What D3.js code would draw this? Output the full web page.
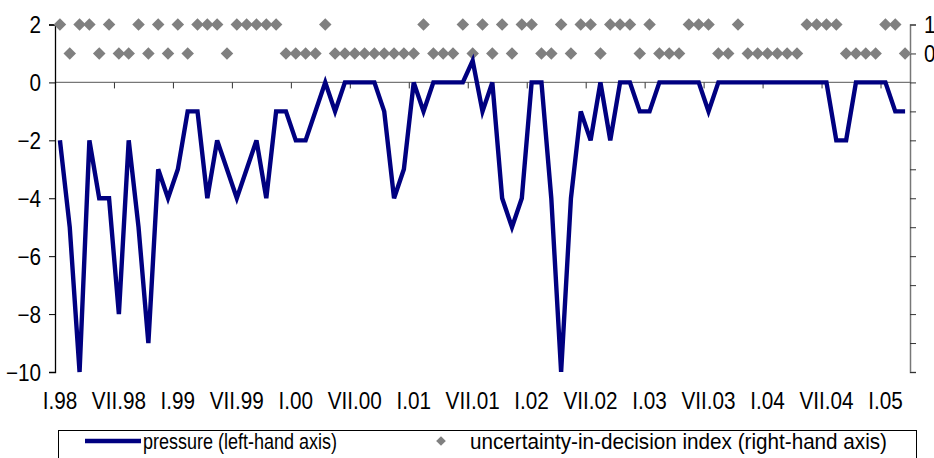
<!DOCTYPE html>
<html>
<head>
<meta charset="utf-8">
<script src="https://cdn.jsdelivr.net/npm/d3@7"></script>
<style>
html,body{margin:0;padding:0;background:#fff;overflow:hidden;}
svg{display:block;font-family:"Liberation Sans",Arial,sans-serif;}
</style>
</head>
<body>
<svg id="chart" width="934" height="458"></svg>
<script>
const months = [
"I.98","II.98","III.98","IV.98","V.98","VI.98","VII.98","VIII.98","IX.98","X.98","XI.98","XII.98",
"I.99","II.99","III.99","IV.99","V.99","VI.99","VII.99","VIII.99","IX.99","X.99","XI.99","XII.99",
"I.00","II.00","III.00","IV.00","V.00","VI.00","VII.00","VIII.00","IX.00","X.00","XI.00","XII.00",
"I.01","II.01","III.01","IV.01","V.01","VI.01","VII.01","VIII.01","IX.01","X.01","XI.01","XII.01",
"I.02","II.02","III.02","IV.02","V.02","VI.02","VII.02","VIII.02","IX.02","X.02","XI.02","XII.02",
"I.03","II.03","III.03","IV.03","V.03","VI.03","VII.03","VIII.03","IX.03","X.03","XI.03","XII.03",
"I.04","II.04","III.04","IV.04","V.04","VI.04","VII.04","VIII.04","IX.04","X.04","XI.04","XII.04",
"I.05","II.05","III.05"];

const pressure = [
-2,-5,-10,-2,-4,-4,-8,-2,-5,-9,-3,-4,
-3,-1,-1,-4,-2,-3,-4,-3,-2,-4,-1,-1,
-2,-2,-1,0,-1,0,0,0,0,-1,-4,-3,
0,-1,0,0,0,0,0.75,-1,0,-4,-5,-4,
0,0,-4,-10,-4,-1,-2,0,-2,0,0,-1,
-1,0,0,0,0,0,-1,0,0,0,0,0,
0,0,0,0,0,0,0,-2,-2,0,0,0,
0,-1,-1];

const uncertainty = [
1,0,1,1,0,1,0,0,1,0,1,0,
1,0,1,1,1,0,1,1,1,1,1,0,
0,0,0,1,0,0,0,0,0,0,0,0,
0,1,0,0,0,1,0,1,0,1,0,1,
1,0,0,1,0,1,1,0,1,1,1,0,
1,0,0,0,1,1,1,0,0,1,0,0,
0,0,0,0,1,1,1,1,0,0,0,0,
1,1,0];

const xTickLabels = ["I.98","VII.98","I.99","VII.99","I.00","VII.00","I.01","VII.01","I.02","VII.02","I.03","VII.03","I.04","VII.04","I.05"];
const leftTicks = [2,0,-2,-4,-6,-8,-10];
const rightTickLabels = [1,0];
const seriesNames = ["pressure (left-hand axis)","uncertainty-in-decision index (right-hand axis)"];

const svg = d3.select("#chart");
const plotL = 55, plotR = 910, plotT = 24.5, plotB = 372;
const squeeze = 0.9;

function condense(sel, f){
  const k = f || squeeze;
  sel.each(function(){
    const w = this.getComputedTextLength();
    d3.select(this).attr("textLength", w*k).attr("lengthAdjust","spacingAndGlyphs");
  });
}

const x = d3.scaleBand().domain(d3.range(months.length)).range([plotL, plotR]).paddingInner(0).paddingOuter(0);
const xEdge = d3.scaleLinear().domain([0, months.length]).range([plotL, plotR]);
const yL = d3.scaleLinear().domain([-10, 2]).range([plotB, plotT]);
const yR = d3.scaleLinear().domain([-11, 1]).range([plotB, plotT]);
const cx = i => x(i) + x.bandwidth()/2;

// x axis (zero line) with ticks every 6 months
const xAxis = d3.axisBottom(xEdge).tickValues(d3.range(0, months.length+1, 6)).tickSize(6).tickFormat("");
const gx = svg.append("g").attr("transform", `translate(0,${yL(0)})`).call(xAxis);
gx.select(".domain").attr("stroke","#777").attr("stroke-width",1.3).attr("d", `M${plotL},0H${plotR}`);
gx.selectAll(".tick line").attr("stroke","#333");

// x labels
const labelIdx = xTickLabels.map(l => months.indexOf(l));
svg.append("g").selectAll("text").data(labelIdx).join("text")
  .attr("x", i => cx(i)).attr("y", 409)
  .attr("text-anchor","middle").attr("font-size",23).attr("fill","#000")
  .text(i => months[i]).call(condense);

// left axis
const gl = svg.append("g").attr("transform",`translate(${plotL},0)`)
  .call(d3.axisLeft(yL).tickValues(leftTicks).tickSize(6).tickFormat(d3.format("d")));
gl.select(".domain").attr("stroke","#000").attr("stroke-width",1.3);
gl.selectAll(".tick line").attr("stroke","#000");
gl.selectAll(".tick text").attr("font-size",23).attr("fill","#000").attr("font-family","Liberation Sans, Arial, sans-serif")
  .attr("x",-14).attr("dy","0.36em").call(condense);

// right axis
const gr = svg.append("g").attr("transform",`translate(${plotR},0)`)
  .call(d3.axisRight(yR).tickValues(d3.range(-11, 2)).tickSize(6)
    .tickFormat(d => rightTickLabels.includes(d) ? d3.format("d")(d) : ""));
gr.select(".domain").attr("stroke","#777").attr("stroke-width",1.5);
gr.selectAll(".tick line").attr("stroke","#333");
gr.selectAll(".tick text").attr("font-size",23).attr("fill","#000").attr("font-family","Liberation Sans, Arial, sans-serif")
  .attr("x",14).attr("dy","0.36em").call(condense);

// diamonds
const sym = d3.symbol().type(d3.symbolDiamond2).size(100);
svg.append("g").selectAll("path").data(uncertainty).join("path")
  .attr("d", sym)
  .attr("transform", (d,i) => `translate(${cx(i)},${yR(d)})`)
  .attr("fill","#808080");

// pressure line
const line = d3.line().x((d,i) => cx(i)).y(d => yL(d));
svg.append("path").datum(pressure).attr("d", line)
  .attr("fill","none").attr("stroke","#000080").attr("stroke-width",4.4).attr("stroke-linejoin","miter");

// legend
const lg = svg.append("g");
lg.append("rect").attr("x",58.5).attr("y",430.5).attr("width",858).attr("height",40)
  .attr("fill","#fff").attr("stroke","#000").attr("stroke-width",1);
lg.append("line").attr("x1",85).attr("x2",141).attr("y1",441).attr("y2",441)
  .attr("stroke","#000080").attr("stroke-width",4.5);
lg.append("text").attr("x",143).attr("y",449).attr("font-size",22)
  .text(seriesNames[0]).attr("textLength",194).attr("lengthAdjust","spacingAndGlyphs");
lg.append("path").attr("d", d3.symbol().type(d3.symbolDiamond2).size(60)).attr("transform","translate(441,441)").attr("fill","#808080");
lg.append("text").attr("x",470).attr("y",449).attr("font-size",22)
  .text(seriesNames[1]).attr("textLength",417).attr("lengthAdjust","spacingAndGlyphs");
</script>
</body>
</html>
